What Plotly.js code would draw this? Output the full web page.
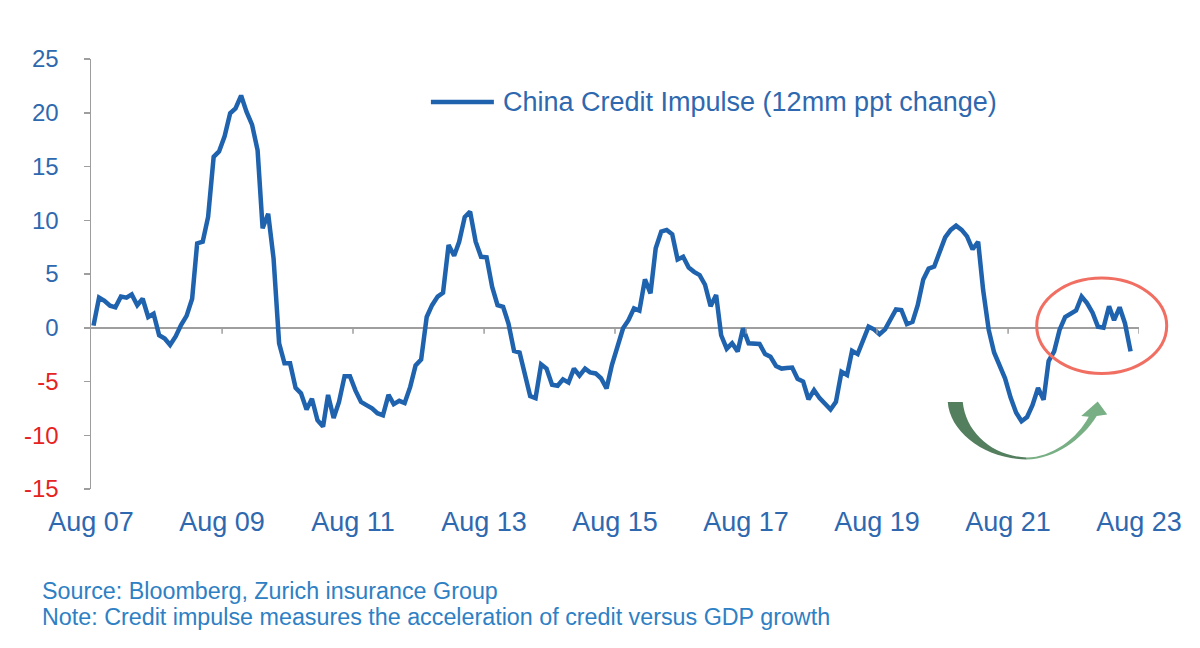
<!DOCTYPE html>
<html><head><meta charset="utf-8">
<script src="https://cdn.plot.ly/plotly-3.0.1.min.js"></script>
<style>html,body{margin:0;padding:0;background:#fff;}#chart{width:1200px;height:648px;}</style>
</head><body><div id="chart"></div>
<script>
// ---- data ----
const seriesName = 'China Credit Impulse (12mm ppt change)';
const startYear = 2007, startMonth = 8; // first monthly observation: Aug 2007
const impulse = [
 0.2, 2.8, 2.5, 2.05, 1.9, 2.9, 2.8, 3.1, 2.1, 2.7, 1.0, 1.3,
 -0.7, -1.0, -1.6, -0.8, 0.25, 1.1, 2.7, 7.85, 8.0, 10.3, 15.9, 16.4,
 17.8, 19.95, 20.4, 21.6, 20.1, 18.9, 16.5, 9.25, 10.6, 6.45, -1.45, -3.3,
 -3.3, -5.6, -6.1, -7.6, -6.6, -8.6, -9.2, -6.25, -8.4, -6.9, -4.5, -4.5,
 -5.85, -6.9, -7.2, -7.5, -7.95, -8.15, -6.25, -7.1, -6.8, -7.0, -5.5, -3.5,
 -2.95, 1.0, 2.1, 2.9, 3.25, 7.7, 6.7, 8.0, 10.3, 10.8, 8.0, 6.6,
 6.55, 3.8, 2.1, 1.95, 0.4, -2.15, -2.3, -4.4, -6.35, -6.55, -3.4, -3.8,
 -5.3, -5.4, -4.8, -5.1, -3.8, -4.45, -3.8, -4.15, -4.25, -4.7, -5.65, -3.45,
 -1.6, -0.05, 0.7, 1.8, 1.6, 4.5, 3.2, 7.4, 8.95, 9.1, 8.7, 6.35,
 6.6, 5.6, 5.2, 4.9, 4.0, 2.0, 3.05, -0.7, -1.95, -1.45, -2.2, -0.05,
 -1.45, -1.45, -1.5, -2.45, -2.7, -3.55, -3.8, -3.75, -3.7, -4.75, -5.0, -6.65,
 -5.8, -6.55, -7.1, -7.6, -6.9, -4.1, -4.4, -2.15, -2.45, -1.1, 0.1, -0.15,
 -0.6, -0.15, 0.7, 1.7, 1.65, 0.35, 0.55, 2.1, 4.5, 5.5, 5.7, 7.0,
 8.4, 9.1, 9.5, 9.1, 8.5, 7.3, 8.0, 3.5, -0.2, -2.3, -3.6, -4.7,
 -6.5, -7.9, -8.7, -8.3, -7.2, -5.6, -6.7, -3.1, -2.2, -0.2, 1.0, 1.35,
 1.6, 2.9, 2.3, 1.4, 0.1, 0.0, 2.0, 0.7, 1.9, 0.4, -2.2
];
const tickDates = ['2007-08-01','2009-08-01','2011-08-01','2013-08-01','2015-08-01','2017-08-01','2019-08-01','2021-08-01','2023-08-01'];
const tickLabels = ['Aug 07','Aug 09','Aug 11','Aug 13','Aug 15','Aug 17','Aug 19','Aug 21','Aug 23'];
const yTickVals = [-15,-10,-5,0,5,10,15,20,25];
const sourceNote = 'Source: Bloomberg, Zurich insurance Group';
const methodNote = 'Note: Credit impulse measures the acceleration of credit versus GDP growth';

// ---- styling ----
const FONT = '"Liberation Sans", Arial, sans-serif';
const LINE_BLUE = '#1F62AD';
const TEXT_BLUE = '#2E68AF';
const NOTE_BLUE = '#2E80C4';
const RED = '#E5231F';
const AXIS_GREY = '#9E9E9E';

const dates = impulse.map((v, i) => {
  const t = startMonth - 1 + i;
  const y = startYear + Math.floor(t / 12);
  const m = (t % 12) + 1;
  return y + '-' + String(m).padStart(2, '0') + '-15';
});

const yTickText = yTickVals.map(v => v < 0 ? '<span style="color:' + RED + '">' + v + '</span>' : String(v));

// pixel -> paper helpers for decorations (plot area 91..1139.3 x 59..489)
const PL = 91, PR = 1139.3, PT = 59, PB = 489;
const px = x => (x - PL) / (PR - PL);
const py = y => (PB - y) / (PB - PT);
function pathFrom(cmds) {
  return cmds.map(c => c[0] + ' ' + (c[1] || []).reduce((acc, v, i, arr) => {
    if (i % 2 === 0) acc.push(px(v).toFixed(5) + ',' + py(arr[i + 1]).toFixed(5));
    return acc;
  }, []).join(' ')).join(' ');
}

const shapes = [];
// tick marks hanging below the zero line
tickDates.slice(1).forEach(d => {
  shapes.push({type: 'line', xref: 'x', yref: 'y', x0: d, x1: d, y0: 0, y1: -0.55,
    line: {color: AXIS_GREY, width: 1.5}});
});
// legend sample line
shapes.push({type: 'line', xref: 'paper', yref: 'paper', x0: px(431), x1: px(494), y0: py(102), y1: py(102),
  line: {color: LINE_BLUE, width: 4.5}});
// red ellipse
shapes.push({type: 'circle', xref: 'paper', yref: 'paper', x0: px(1037), x1: px(1167), y0: py(373.5), y1: py(278),
  line: {color: '#F06F62', width: 3}});
// green curved arrow (two tones)
shapes.push({type: 'path', xref: 'paper', yref: 'paper', fillcolor: '#547F5F', line: {width: 0},
  path: pathFrom([['M',[948,402]],['C',[950,432, 985,459, 1027,459.5]],['L',[1027,457.5]],['C',[992,456, 966,432, 963,402]],['Z']])});
shapes.push({type: 'path', xref: 'paper', yref: 'paper', fillcolor: '#78AF84', line: {width: 0},
  path: pathFrom([['M',[1027,459.5]],['C',[1055,459, 1082,440, 1097,416]],['L',[1107.5,414.5]],['L',[1098,401.5]],['L',[1081.5,416]],['L',[1089,416.7]],['C',[1078,438, 1052,457.5, 1027,457.5]],['Z']])});

const annotations = [
  {xref: 'paper', yref: 'paper', x: px(501), y: py(102), xanchor: 'left', yanchor: 'middle', showarrow: false,
   text: seriesName, font: {family: FONT, size: 27, color: TEXT_BLUE}},
  {xref: 'paper', yref: 'paper', x: px(40), y: py(591), xanchor: 'left', yanchor: 'middle', showarrow: false,
   text: sourceNote, font: {family: FONT, size: 23.3, color: NOTE_BLUE}},
  {xref: 'paper', yref: 'paper', x: px(40), y: py(617), xanchor: 'left', yanchor: 'middle', showarrow: false,
   text: methodNote, font: {family: FONT, size: 23.3, color: NOTE_BLUE}}
];

const trace = {
  type: 'scatter', mode: 'lines', name: seriesName,
  x: dates, y: impulse,
  line: {color: LINE_BLUE, width: 4.5, shape: 'linear'},
  hoverinfo: 'x+y'
};

const layout = {
  width: 1200, height: 648,
  margin: {l: PL, r: 1200 - PR, t: PT, b: 648 - PB, pad: 0},
  paper_bgcolor: '#ffffff', plot_bgcolor: '#ffffff',
  showlegend: false,
  font: {family: FONT, color: TEXT_BLUE},
  xaxis: {
    type: 'date', range: ['2007-08-01', '2023-08-01'],
    tickmode: 'array', tickvals: tickDates, ticktext: tickLabels,
    showline: false, ticks: '', showgrid: false, zeroline: false,
    tickfont: {family: FONT, size: 27, color: TEXT_BLUE},
    ticklabelstandoff: 14
  },
  yaxis: {
    range: [-15, 25], tickmode: 'array', tickvals: yTickVals, ticktext: yTickText,
    showline: true, linecolor: AXIS_GREY, linewidth: 1.5,
    ticks: 'outside', ticklen: 6, tickwidth: 1.5, tickcolor: AXIS_GREY,
    showgrid: false, zeroline: true, zerolinecolor: AXIS_GREY, zerolinewidth: 1.5,
    tickfont: {family: FONT, size: 24, color: TEXT_BLUE},
    ticklabelstandoff: 20
  },
  shapes: shapes,
  annotations: annotations
};

Plotly.newPlot('chart', [trace], layout, {staticPlot: true, displayModeBar: false});
</script>
</body></html>
